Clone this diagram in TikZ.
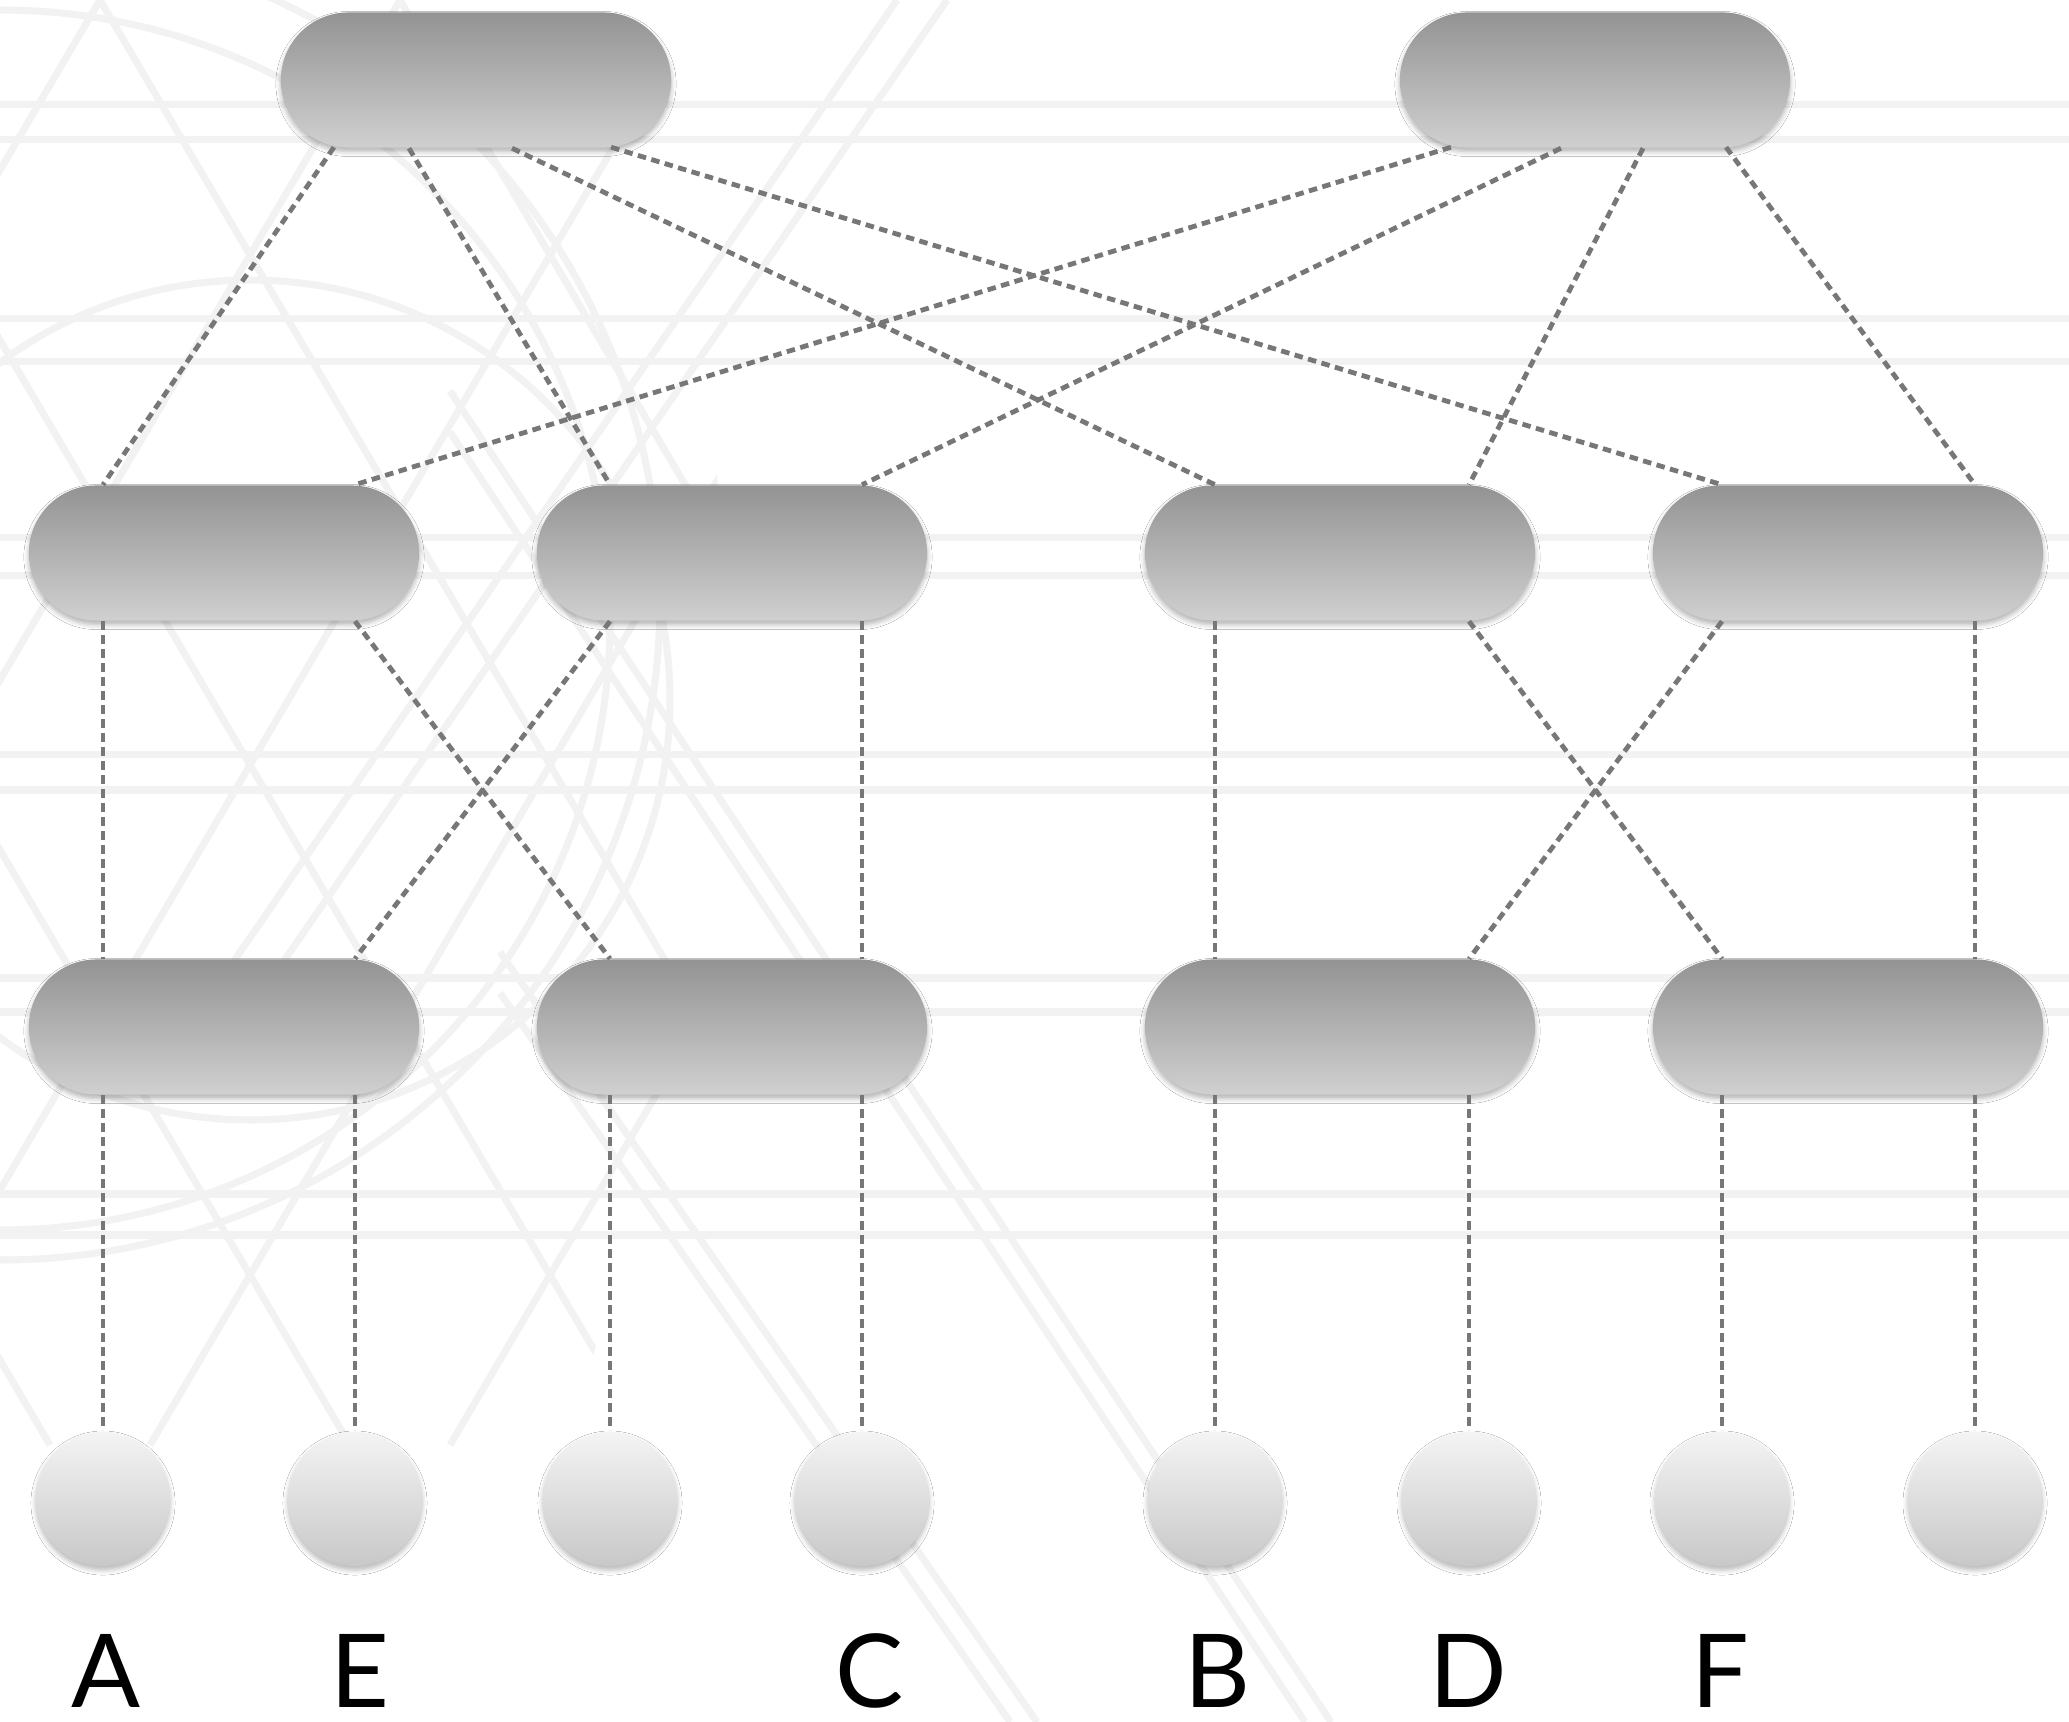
\documentclass[tikz,border=0pt]{standalone}
\usepackage{fontspec}
\setmainfont{Lato}
\usetikzlibrary{shadows.blur,calc}
\definecolor{conn}{HTML}{777777}
\definecolor{bgline}{HTML}{F2F2F2}
\definecolor{pilltop}{HTML}{939393}
\definecolor{pillbot}{HTML}{D0D0D0}
\definecolor{leaftop}{HTML}{F4F4F4}
\definecolor{leafbot}{HTML}{C8C8C8}
\begin{document}
\begin{tikzpicture}[x=0.01cm,y=-0.01cm,
  pill/.style={rectangle, rounded corners=0.675cm, minimum width=3.9cm, minimum height=1.35cm,
    inner sep=0pt, top color=pilltop, bottom color=pillbot, draw=none,
    blur shadow={shadow xshift=0pt, shadow yshift=-0.04cm, shadow blur radius=0.05cm, shadow opacity=30}},
  leaf/.style={circle, minimum size=1.34cm, inner sep=0pt, top color=leaftop, bottom color=leafbot, draw=none,
    blur shadow={shadow xshift=0pt, shadow yshift=-0.04cm, shadow blur radius=0.05cm, shadow opacity=28}},
  link/.style={draw=conn, line width=0.048cm, dash pattern=on 0.085cm off 0.055cm},
  lbl/.style={font=\fontsize{29}{30}\selectfont, text=black, inner sep=0pt, anchor=base},
  bg/.style={draw=bgline, line width=0.07cm}
]
\fill[white] (0,0) rectangle (2069,1722);
\useasboundingbox (0,0) rectangle (2069,1722);

% faint background pattern
\foreach \yy in {105,140,319,362,538,576,755,790,978,1012,1194,1235}
  \draw[bg] (0,\yy) -- (2069,\yy);
\begin{scope}
  \clip (0,0) -- (640,0) .. controls (760,500) and (760,900) .. (560,1450) -- (0,1450) -- cycle;
  \foreach \xx in {-800,-500,-200,100,400}{
    \draw[bg] (\xx,0) -- ++(850,1445);
    \draw[bg] (\xx+900,0) -- ++(-850,1445);
  }
  \draw[bg] (0,600) circle (660);
  \draw[bg] (0,620) circle (610);
  \draw[bg] (250,700) circle (420);
\end{scope}
\draw[bg] (897,0) -- (207,1000);
\draw[bg] (947,0) -- (257,1000);
\draw[bg] (450,391) -- (1331,1722);
\draw[bg] (450,432) -- (1305,1722);
\draw[bg] (500,952) -- (1037,1722);
\draw[bg] (500,993) -- (1010,1722);

% nodes
\node[pill] (T1) at (476,80) {};
\node[pill] (T2) at (1595,80) {};
\node[pill] (M1) at (224,553) {};
\node[pill] (M2) at (732,553) {};
\node[pill] (M3) at (1340,553) {};
\node[pill] (M4) at (1848,553) {};
\node[pill] (B1) at (224,1027) {};
\node[pill] (B2) at (732,1027) {};
\node[pill] (B3) at (1340,1027) {};
\node[pill] (B4) at (1848,1027) {};
\node[leaf] (L1) at (103,1499) {};
\node[leaf] (L2) at (355,1499) {};
\node[leaf] (L3) at (610,1499) {};
\node[leaf] (L4) at (862,1499) {};
\node[leaf] (L5) at (1215,1499) {};
\node[leaf] (L6) at (1469,1499) {};
\node[leaf] (L7) at (1722,1499) {};
\node[leaf] (L8) at (1975,1499) {};

% labels
\node[lbl] (lA) at (106,1707) {A};
\node[lbl] (lE) at (360,1707) {E};
\node[lbl] (lC) at (870,1707) {C};
\node[lbl] (lB) at (1217,1707) {B};
\node[lbl] (lD) at (1468,1707) {D};
\node[lbl] (lF) at (1720,1707) {F};

% top -> middle
\draw[link] ([xshift=-1.42cm,yshift=0.01cm]T1.south) -- (M1.north -| L1);
\draw[link] ([xshift=-0.67cm]T1.south) -- (M2.north -| L3);
\draw[link] ([xshift=0.36cm]T1.south) -- (M3.north -| L5);
\draw[link] ([xshift=1.35cm,yshift=0.01cm]T1.south) -- (M4.north -| L7);
\draw[link] ([xshift=-1.44cm,yshift=0.01cm]T2.south) -- (M1.north -| L2);
\draw[link] ([xshift=-0.34cm]T2.south) -- (M2.north -| L4);
\draw[link] ([xshift=0.48cm]T2.south) -- (M3.north -| L6);
\draw[link] ([xshift=1.31cm,yshift=0.01cm]T2.south) -- (M4.north -| L8);

% middle -> bottom
\draw[link] (M1.south -| L1) -- (B1.north -| L1);
\draw[link] (M1.south -| L2) -- (B2.north -| L3);
\draw[link] (M2.south -| L3) -- (B1.north -| L2);
\draw[link] (M2.south -| L4) -- (B2.north -| L4);
\draw[link] (M3.south -| L5) -- (B3.north -| L5);
\draw[link] (M3.south -| L6) -- (B4.north -| L7);
\draw[link] (M4.south -| L7) -- (B3.north -| L6);
\draw[link] (M4.south -| L8) -- (B4.north -| L8);

% bottom -> leaves
\draw[link] (B1.south -| L1) -- (L1.north);
\draw[link] (B1.south -| L2) -- (L2.north);
\draw[link] (B2.south -| L3) -- (L3.north);
\draw[link] (B2.south -| L4) -- (L4.north);
\draw[link] (B3.south -| L5) -- (L5.north);
\draw[link] (B3.south -| L6) -- (L6.north);
\draw[link] (B4.south -| L7) -- (L7.north);
\draw[link] (B4.south -| L8) -- (L8.north);
\end{tikzpicture}
\end{document}
